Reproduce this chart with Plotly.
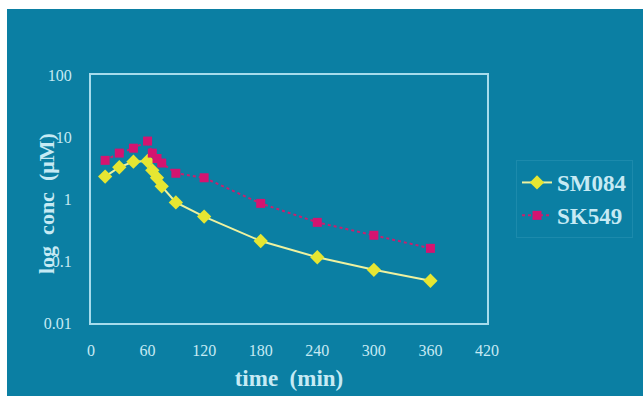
import plotly.graph_objects as go

sm_time = [15, 30, 45, 60, 65, 70, 75, 90, 120, 180, 240, 300, 360]
sm_conc = [2.3, 3.25, 4.0, 4.1, 2.9, 2.2, 1.6, 0.88, 0.52, 0.21, 0.115, 0.072, 0.048]
sk_time = [15, 30, 45, 60, 65, 70, 75, 90, 120, 180, 240, 300, 360]
sk_conc = [4.2, 5.5, 6.6, 8.6, 5.5, 4.5, 3.8, 2.6, 2.2, 0.85, 0.42, 0.26, 0.16]
y_ticks = [0.01, 0.1, 1, 10, 100]
y_tick_text = ["0.01", "0.1", "1", "10", "100"]
x_ticks = [0, 60, 120, 180, 240, 300, 360, 420]

W, H = 643, 396
L, R, T, B = 91, 487, 75, 323
txt = "#c6eaf4"
frame = "#a6dcec"
bg = "#0b7fa3"

fig = go.Figure()
fig.add_trace(go.Scatter(
    x=sm_time, y=sm_conc, name="SM084", mode="lines+markers",
    line=dict(color="#eef2a0", width=2),
    marker=dict(symbol="diamond", size=11, color="#e6e632"),
))
fig.add_trace(go.Scatter(
    x=sk_time, y=sk_conc, name="SK549", mode="lines+markers",
    line=dict(color="#c8206e", width=2, dash="dot"),
    marker=dict(symbol="square", size=9, color="#d41470"),
))

def px_x(p):
    return (p - L) / (R - L)

def px_y(p):
    return (B - p) / (B - T)

# white photo margins (top and left)
fig.add_shape(type="rect", xref="paper", yref="paper",
              x0=px_x(-5), x1=px_x(W + 5), y0=px_y(9), y1=px_y(-5),
              fillcolor="white", line=dict(width=0), layer="below")
fig.add_shape(type="rect", xref="paper", yref="paper",
              x0=px_x(-5), x1=px_x(7), y0=px_y(H + 5), y1=px_y(-5),
              fillcolor="white", line=dict(width=0), layer="below")

font_serif = "Liberation Serif, Times New Roman, serif"

fig.add_annotation(
    text="log  conc  (μM)", xref="paper", yref="paper",
    x=px_x(46), y=px_y(204), xanchor="center", yanchor="middle",
    textangle=-90, showarrow=False,
    font=dict(family=font_serif, size=22, color=txt, weight="bold"),
)

fig.update_layout(
    width=W, height=H,
    margin=dict(l=L, r=W - R, t=T, b=H - B, autoexpand=False),
    paper_bgcolor=bg, plot_bgcolor=bg,
    font=dict(family=font_serif, color=txt),
    showlegend=True,
    legend=dict(
        x=px_x(516), y=px_y(199), xanchor="left", yanchor="middle",
        bgcolor="rgba(0,0,0,0)", bordercolor="rgba(160,220,240,0.12)", borderwidth=1,
        font=dict(family=font_serif, size=23, color=txt, weight="bold"),
        tracegroupgap=0,
    ),
    xaxis=dict(
        range=[0, 420], tickvals=x_ticks, showgrid=False, zeroline=False,
        showline=True, mirror=True, linecolor=frame, linewidth=2,
        ticks="", ticklabelstandoff=12, automargin=False,
        tickfont=dict(size=16, color=txt),
        title=dict(text="time  (min)", standoff=12,
                   font=dict(size=23, color=txt, weight="bold")),
    ),
    yaxis=dict(
        type="log", range=[-2, 2], tickvals=y_ticks, ticktext=y_tick_text,
        showgrid=False, zeroline=False, automargin=False,
        showline=True, mirror=True, linecolor=frame, linewidth=2,
        ticks="", ticklabelstandoff=14,
        tickfont=dict(size=16, color=txt),
    ),
)

fig.write_html("out.html")
